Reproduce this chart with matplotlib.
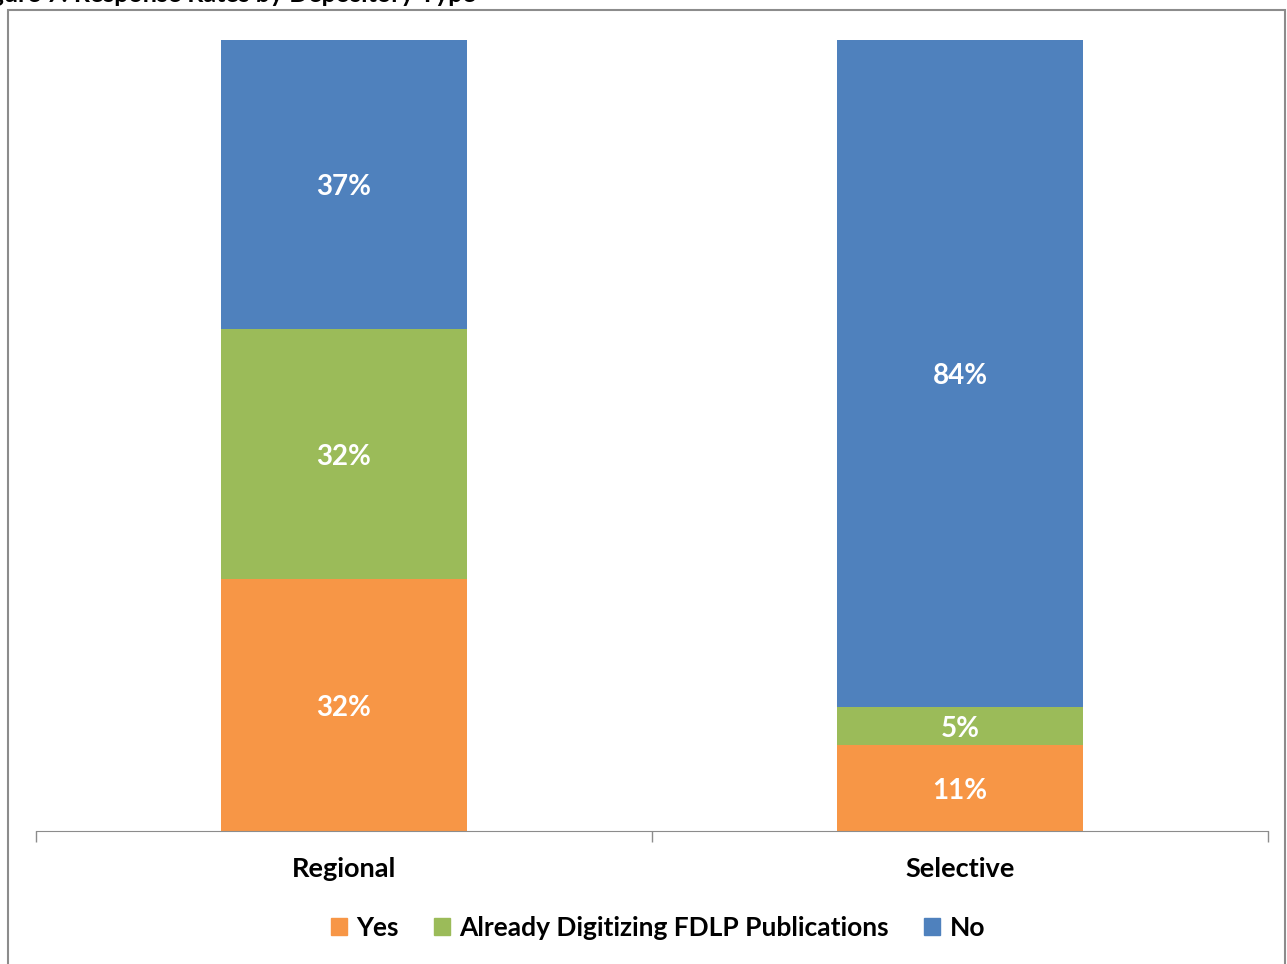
import matplotlib
matplotlib.use("Agg")
import matplotlib.pyplot as plt
from matplotlib.patches import Rectangle
import matplotlib.transforms as mtransforms
import numpy as np

categories = ["Regional", "Selective"]
series_names = ["Yes", "Already Digitizing FDLP Publications", "No"]
yes_vals = [31.9, 10.9]
already_vals = [31.6, 4.8]
no_vals = [36.6, 84.3]
colors = ["#F79646", "#9BBB59", "#4F81BD"]

W, H = 1287, 964
fig = plt.figure(figsize=(W / 100, H / 100), dpi=100)

# outer chart frame
fig.patches.append(Rectangle((8 / W, -0.05), (1285 - 8) / W, 1.05 - 10 / H,
                             transform=fig.transFigure, fill=False,
                             edgecolor="#8c8c8c", linewidth=1.5, zorder=0))
# title (cut off at the top edge, as in the source)
fig.text(476 / W, 1 - 6 / H, "Figure 7: Response Rates by Depository Type",
         ha="right", va="bottom", fontsize=18, fontweight="bold",
         family="Lato", color="black")

ax = fig.add_axes([36 / W, (H - 831) / H, 1232 / W, 791 / H])
x = np.arange(len(categories))
width = 0.40
bottom = np.zeros(len(categories))
shift = mtransforms.ScaledTranslation(0, -3 / 100, fig.dpi_scale_trans)
for name, vals, c in zip(series_names, [yes_vals, already_vals, no_vals], colors):
    vals = np.array(vals)
    ax.bar(x, vals, width, bottom=bottom, color=c, label=name, zorder=2)
    for xi, b, v in zip(x, bottom, vals):
        ax.text(xi, b + v / 2, f"{v:.0f}%", ha="center", va="center",
                color="white", fontsize=20, fontweight="bold", family="Lato",
                transform=ax.transData + shift)
    bottom += vals

ax.set_xlim(-0.5, 1.5)
ax.set_ylim(0, 100)
for s in ["top", "right", "left"]:
    ax.spines[s].set_visible(False)
ax.spines["bottom"].set_color("#8c8c8c")
ax.set_yticks([])
ax.set_xticks(x)
ax.set_xticklabels(categories, fontsize=19.5, fontweight="bold", family="Lato")
ax.tick_params(axis="x", which="major", length=0, pad=19)
ax.set_xticks([-0.5, 0.5, 1.5], minor=True)
ax.tick_params(axis="x", which="minor", length=8, color="#8c8c8c", width=1)

handles = [Rectangle((0, 0), 1, 1, color=c) for c in colors]
fig.legend(handles, series_names, loc="center", bbox_to_anchor=(658 / W, 1 - 928 / H),
           ncol=3, frameon=False, prop={"family": "Lato", "weight": "bold", "size": 19},
           handlelength=0.6, handleheight=0.6, handletextpad=0.35, columnspacing=1.35)

fig.savefig("out.png", dpi=100)
